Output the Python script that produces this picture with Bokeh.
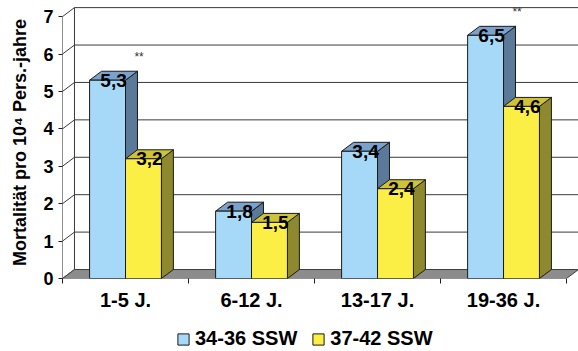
from bokeh.plotting import figure
from bokeh.layouts import column
from bokeh.models import FixedTicker, Range1d, ColumnDataSource, Legend, LegendItem
from bokeh.embed import file_html
from bokeh.resources import INLINE
from bokeh.core.properties import value

categories = ["1-5 J.", "6-12 J.", "13-17 J.", "19-36 J."]
series_names = ["34-36 SSW", "37-42 SSW"]
v_3436 = [5.3, 1.8, 3.4, 6.5]
v_3742 = [3.2, 1.5, 2.4, 4.6]
value_labels_3436 = ["5,3", "1,8", "3,4", "6,5"]
value_labels_3742 = ["3,2", "1,5", "2,4", "4,6"]
stars = ["**", "", "", "**"]
y_ticks = [0, 1, 2, 3, 4, 5, 6, 7]

FONT = "Liberation Sans"
DX = 0.095   # depth offset in x units
DY = 0.24    # depth offset in y units
BW = 0.285   # bar width
XMAX = 4 + DX
YMAX = 7.27

front_cols = ["#A6D8F8", "#FBEE44"]
top_cols = ["#7AA2CC", "#CEC236"]
side_cols = ["#5B7998", "#8E892E"]

p = figure(width=578, height=321, output_backend="svg", toolbar_location=None,
           x_range=Range1d(0, XMAX), y_range=Range1d(0, YMAX),
           min_border_left=62, min_border_right=0, min_border_top=6, min_border_bottom=43)
p.outline_line_color = None
p.xgrid.visible = False
p.ygrid.visible = False
p.background_fill_color = "white"

# back wall grid lines and left wall diagonals
gx0, gy0, gx1, gy1 = [], [], [], []
for t in y_ticks:
    gx0 += [0, DX]
    gy0 += [t, t + DY]
    gx1 += [DX, XMAX]
    gy1 += [t + DY, t + DY]
p.segment(gx0, gy0, gx1, gy1, line_color="#3a3a3a", line_width=1)
# back wall left edge
p.segment([DX], [DY], [DX], [7 + DY], line_color="#3a3a3a", line_width=1)

# floor
p.patch([0, 4, 4 + DX, DX], [0, 0, DY, DY], fill_color="#8C8C8C",
        line_color="#404040", line_width=1)

# front y axis line
p.segment([0], [0], [0], [7], line_color="#202020", line_width=1)

# legend strip below the chart (frame aligned with the main plot)
lg = figure(width=578, height=30, output_backend="svg", toolbar_location=None,
            x_range=Range1d(0, XMAX), y_range=Range1d(-2, -1),
            x_axis_location=None, y_axis_location=None,
            min_border_left=0, min_border_right=0, min_border_top=0, min_border_bottom=0)
lg.outline_line_color = None
lg.xgrid.visible = False
lg.ygrid.visible = False

items = []
for s, vals in enumerate([v_3436, v_3742]):
    x0s, x1s = [], []
    side_xs, side_ys, top_xs, top_ys = [], [], [], []
    for i, v in enumerate(vals):
        x0 = i + 0.5 - BW + s * BW
        x1 = x0 + BW
        x0s.append(x0)
        x1s.append(x1)
        side_xs.append([x1, x1 + DX, x1 + DX, x1])
        side_ys.append([0, DY, v + DY, v])
        top_xs.append([x0, x1, x1 + DX, x0 + DX])
        top_ys.append([v, v, v + DY, v + DY])
    p.patches(side_xs, side_ys, fill_color=side_cols[s], line_color="#1a1a1a", line_width=1)
    p.patches(top_xs, top_ys, fill_color=top_cols[s], line_color="#1a1a1a", line_width=1)
    p.quad(left=x0s, right=x1s, bottom=[0] * 4, top=vals, fill_color=front_cols[s],
           line_color="#1a1a1a", line_width=1)
    # same series in the legend strip (outside its visible range) -> legend swatch
    r = lg.quad(left=x0s, right=x1s, bottom=[0] * 4, top=vals, fill_color=front_cols[s],
                line_color="#1a1a1a", line_width=1)
    items.append(LegendItem(label=series_names[s], renderers=[r]))

# value labels
for s, (vals, labs) in enumerate([(v_3436, value_labels_3436), (v_3742, value_labels_3742)]):
    src = ColumnDataSource(dict(
        x=[i + 0.5 - BW / 2 + s * BW + DX / 2 for i in range(4)],
        y=vals, t=labs))
    p.text(x="x", y="y", text="t", source=src, text_align="center", text_baseline="alphabetic",
           text_font=value(FONT), text_font_style="bold", text_font_size="19px",
           text_color="#000000")

# significance stars
src = ColumnDataSource(dict(x=[i + 0.5 - BW / 2 + 0.25 for i in range(4)],
                            y=[v + 0.63 for v in v_3436], t=stars))
p.text(x="x", y="y", text="t", source=src, text_align="center", text_baseline="middle",
       text_font=value(FONT), text_font_size="12px", text_color="#333333")

# axes
p.yaxis.ticker = FixedTicker(ticks=y_ticks)
p.yaxis.axis_line_color = None
p.yaxis.major_tick_in = 0
p.yaxis.major_tick_out = 4
p.yaxis.minor_tick_line_color = None
p.yaxis.major_tick_line_color = "#202020"
p.yaxis.major_label_text_font = FONT
p.yaxis.major_label_text_font_style = "bold"
p.yaxis.major_label_text_font_size = "18px"
p.yaxis.major_label_text_color = "#000000"
p.yaxis.major_label_standoff = 5
p.yaxis.axis_label = "Mortalität pro 10⁴ Pers.-jahre"
p.yaxis.axis_label_text_font = FONT
p.yaxis.axis_label_text_font_style = "bold"
p.yaxis.axis_label_text_font_size = "18px"
p.yaxis.axis_label_text_color = "#000000"
p.yaxis.axis_label_standoff = 10

p.xaxis.ticker = FixedTicker(ticks=[0.5, 1.5, 2.5, 3.5], minor_ticks=[0, 1, 2, 3, 4])
p.xaxis.major_label_overrides = {i + 0.5: c for i, c in enumerate(categories)}
p.xaxis.axis_line_color = None
p.xaxis.major_tick_line_color = None
p.xaxis.major_tick_out = 5
p.xaxis.major_tick_in = 0
p.xaxis.minor_tick_line_color = "#202020"
p.xaxis.minor_tick_out = 5
p.xaxis.minor_tick_in = 0
p.xaxis.major_label_standoff = 5
p.xaxis.major_label_text_font = FONT
p.xaxis.major_label_text_font_style = "bold"
p.xaxis.major_label_text_font_size = "20px"
p.xaxis.major_label_text_color = "#000000"

legend = Legend(items=items, orientation="horizontal", location=(114, 1))
legend.label_text_font = FONT
legend.label_text_font_style = "bold"
legend.label_text_font_size = "20px"
legend.label_text_color = "#000000"
legend.glyph_width = 14
legend.glyph_height = 14
legend.label_standoff = 5
legend.spacing = 14
legend.padding = 0
legend.margin = 0
legend.border_line_color = None
legend.background_fill_alpha = 0
lg.add_layout(legend, "center")

layout = column(p, lg, spacing=0)
open("out.html", "w").write(file_html(layout, INLINE))
